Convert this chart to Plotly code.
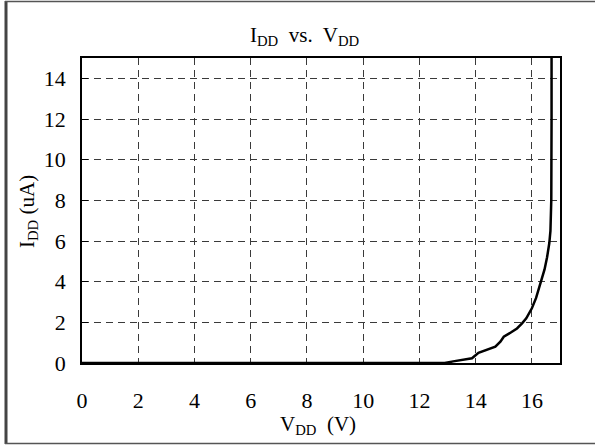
import plotly.graph_objects as go

# Data
vdd = [0, 6.0, 12.0, 12.9, 13.2, 13.45, 13.87, 14.1, 14.3, 14.52, 14.7, 14.88, 15.0,
       15.25, 15.47, 15.65, 15.8, 16.0, 16.15, 16.3, 16.45, 16.54, 16.62, 16.66, 16.69, 16.7, 16.7]
idd = [0, 0, 0, 0.0, 0.08, 0.15, 0.23, 0.5, 0.6, 0.72, 0.8, 1.05, 1.29,
       1.5, 1.7, 1.95, 2.2, 2.69, 3.2, 3.9, 4.6, 5.2, 5.9, 6.5, 8.0, 12.0, 15.0]

x_ticks = [0, 2, 4, 6, 8, 10, 12, 14, 16]
y_ticks = [0, 2, 4, 6, 8, 10, 12, 14]

FONT = "Liberation Serif"

fig = go.Figure()
fig.add_trace(go.Scatter(x=vdd, y=idd, mode="lines",
                         line=dict(color="black", width=2.5), showlegend=False))

grid = dict(showgrid=True, gridcolor="#3a3a3a", gridwidth=1, griddash="7px,5px")

pw, ph = 478.0, 305.0
def px(xp):
    return (xp - 82) / pw
def py(yp):
    return (363 - yp) / ph

fig.update_layout(
    width=595, height=445,
    margin=dict(l=82, r=35, t=58, b=82, autoexpand=False),
    paper_bgcolor="white", plot_bgcolor="white",
    font=dict(family=FONT, size=22, color="black"),
    xaxis=dict(range=[0, 17], tickvals=x_ticks, ticks="", zeroline=False,
               showline=True, linecolor="black", linewidth=1.5, mirror=True,
               ticklabelstandoff=17, tickfont=dict(size=22), automargin=False,
               **grid),
    yaxis=dict(range=[0, 15], tickvals=y_ticks, ticks="inside", ticklen=6,
               tickcolor="black", zeroline=False,
               showline=True, linecolor="black", linewidth=1.5, mirror=True,
               ticklabelstandoff=10, tickfont=dict(size=22), automargin=False,
               **grid),
)

# Title and axis titles as annotations placed in paper coordinates
fig.add_annotation(text="I<sub>DD</sub>&nbsp; vs.&nbsp; V<sub>DD</sub>", xref="paper", yref="paper",
                   x=px(305), y=py(36), xanchor="center", yanchor="middle",
                   showarrow=False, font=dict(family=FONT, size=21, color="black"))
fig.add_annotation(text="V<sub>DD</sub>&nbsp; (V)", xref="paper", yref="paper",
                   x=px(318), y=py(425), xanchor="center", yanchor="middle",
                   showarrow=False, font=dict(family=FONT, size=21, color="black"))
fig.add_annotation(text="I<sub>DD</sub> (uA)", xref="paper", yref="paper",
                   x=px(28), y=py(212), xanchor="center", yanchor="middle",
                   textangle=-90, showarrow=False,
                   font=dict(family=FONT, size=21, color="black"))

# Outer frame of the picture (left, top, bottom edges)
fig.add_shape(type="line", xref="paper", yref="paper",
              x0=px(6), x1=px(6), y0=py(1), y1=py(444),
              line=dict(color="#444444", width=3))
fig.add_shape(type="line", xref="paper", yref="paper",
              x0=px(5), x1=px(600), y0=py(1.5), y1=py(1.5),
              line=dict(color="#555555", width=1.5))
fig.add_shape(type="line", xref="paper", yref="paper",
              x0=px(5), x1=px(600), y0=py(443.5), y1=py(443.5),
              line=dict(color="#555555", width=1.5))

fig.write_html("out.html", config={"displayModeBar": False},
               post_script="document.body.style.margin='0';document.body.style.overflow='hidden';")
